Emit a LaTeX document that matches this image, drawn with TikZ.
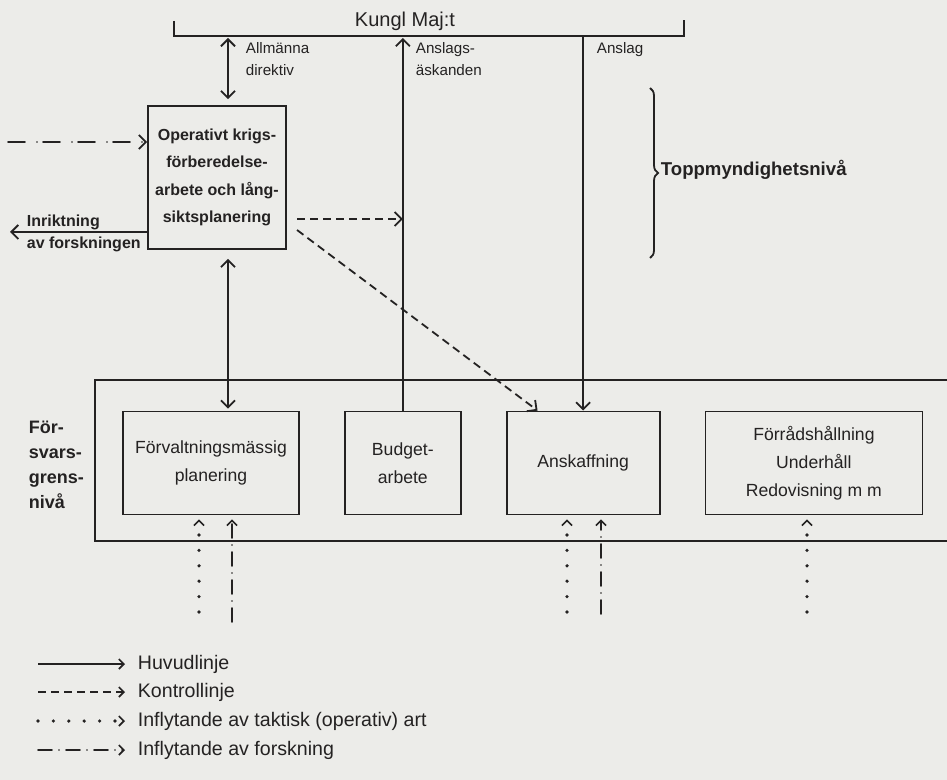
\documentclass[tikz,border=0pt]{standalone}
\usepackage{fontspec}
\setmainfont{Liberation Sans}
\usepackage{xcolor}
\usetikzlibrary{arrows.meta, positioning, decorations.pathreplacing}
\definecolor{papper}{RGB}{236,236,233}
\definecolor{tusch}{RGB}{36,34,34}

\begin{document}
\begin{tikzpicture}[
  x=0.5pt, y=-0.5pt,
  >={Straight Barb[length=3.5pt,width=7pt]},
  liten/.tip={Straight Barb[length=2.5pt,width=5pt,line width=0.8pt]},
  line width=0.9pt, color=tusch,
  node distance=22pt,
  every node/.style={align=center, inner sep=1pt},
  box/.style={draw, minimum height=51.5pt, font=\fontsize{8.8}{14}\selectfont},
  txt/.style={anchor=north west, align=left, font=\fontsize{7.6}{11}\selectfont},
  fet/.style={anchor=west, align=left, font=\fontsize{9}{12.6}\selectfont\bfseries},
  legtxt/.style={anchor=west, font=\fontsize{9.8}{11}\selectfont},
  kontroll/.style={dash pattern=on 4pt off 2.5pt},
  taktisk/.style={line width=1.8pt, line cap=round, dash pattern=on 0pt off 7.7pt, -liten},
  forskn/.style={line cap=round, dash pattern=on 7pt off 3.5pt on 0pt off 3.5pt, -liten},
]
\useasboundingbox (0,0) rectangle (947,780);
\fill[papper] (0,0) rectangle (947,780);

\node[font=\fontsize{10}{12}\selectfont] (kungl) at (405,21) {Kungl Maj:t};
\coordinate (kl) at (174,36);
\coordinate (kr) at (684,36);
\draw ([yshift=7.5pt]kl) -- (kl) -- (kr) -- ([yshift=8pt]kr);

\node[box, minimum width=69pt, minimum height=71.5pt,
  font=\fontsize{8}{13.8}\selectfont\bfseries] (oper) at (217,177.5)
  {Operativt krigs-\\förberedelse-\\arbete och lång-\\siktsplanering};

\draw (947,380) -| (95,541) -- (947,541);
\node[box, minimum width=88pt] (forv) at (211,463) {Förvaltningsmässig\\planering};
\node[box, minimum width=58pt, right=of forv] (budget) {Budget-\\arbete};
\node[box, minimum width=76.5pt, right=of budget] (anskaf) {Anskaffning};
\node[box, minimum width=108.5pt, right=of anskaf] (forrad) {Förrådshållning\\Underhåll\\Redovisning m m};

\node[txt] (allm) at (243,40) {Allmänna\\direktiv};
\node[txt] (askan) at (413,40) {Anslags-\\äskanden};
\node[txt] (anslag) at (594,40) {Anslag};

\coordinate (dir) at (228,0);
\draw[<->, shorten <=1pt, shorten >=3pt] (dir |- kl) -- (dir |- oper.north);
\draw[<->, shorten <=4.5pt, shorten >=1pt] (dir |- oper.south) -- (dir |- forv.north);
\draw[->, shorten >=1pt] (budget.north) -- (budget.north |- kl);
\draw[->] (anskaf.north |- kl) -- (anskaf.north);

\coordinate (topp1) at (650,88);
\coordinate (topp2) at (650,258);
\draw[decorate, decoration={brace, amplitude=4pt}] (topp1) -- (topp2);
\node[fet, font=\fontsize{9.3}{12}\selectfont\bfseries] (topp) at (658,170) {Toppmyndighetsnivå};

\coordinate (fsk) at (8,142);
\draw[forskn, dash pattern=on 8.5pt off 6pt on 0pt off 3pt, ->] (fsk) -- (fsk -| oper.west);
\coordinate (inr) at (10,232);
\draw[->] (inr -| oper.west) -- (inr);
\node[fet, font=\fontsize{8}{11}\selectfont\bfseries] (inrtxt) at (24,233) {Inriktning\\av forskningen};

\coordinate (k1) at (297,219);
\coordinate (k2) at (297,230);
\draw[kontroll, ->] (k1) -- (k1 -| budget.north);
\draw[kontroll, ->] (k2) -- (anskaf.131);

\node[fet] (fgren) at (26,465) {För-\\svars-\\grens-\\nivå};

\coordinate (t1) at (199,612);
\coordinate (f1) at (232,622);
\coordinate (t2) at (567,612);
\coordinate (f2) at (601,614);
\coordinate (t3) at (807,612);
\draw[taktisk, shorten >=2pt] (t1) -- (t1 |- forv.south);
\draw[forskn, shorten >=2pt] (f1) -- (f1 |- forv.south);
\draw[taktisk, shorten >=2pt] (t2) -- (t2 |- anskaf.south);
\draw[forskn, shorten >=2pt] (f2) -- (f2 |- anskaf.south);
\draw[taktisk, shorten >=2pt] (t3) -- (t3 |- forrad.south);

\coordinate (l1) at (38,664);
\coordinate (l2) at (38,692);
\coordinate (l3) at (38,721);
\coordinate (l4) at (38,750);
\node[legtxt] (huvud) at (135,664) {Huvudlinje};
\node[legtxt] (kontr) at (135,692) {Kontrollinje};
\node[legtxt] (takt) at (135,721) {Inflytande av taktisk (operativ) art};
\node[legtxt] (forsk) at (135,750) {Inflytande av forskning};
\draw[-liten, shorten >=5pt] (l1) -- (huvud.west);
\draw[kontroll, -liten, shorten >=5pt] (l2) -- (kontr.west);
\draw[taktisk, shorten >=5pt] (l3) -- (takt.west);
\draw[forskn, shorten >=5pt] (l4) -- (forsk.west);
\end{tikzpicture}
\end{document}
